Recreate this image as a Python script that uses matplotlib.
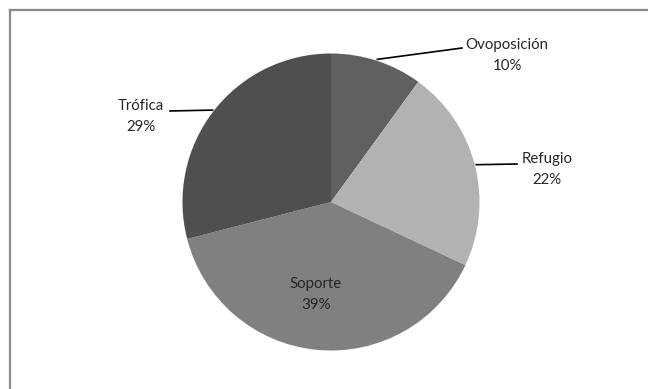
import numpy as np
import matplotlib.pyplot as plt
from matplotlib.lines import Line2D

categories = ["Ovoposición", "Refugio", "Soporte", "Trófica"]
values = [10, 22, 39, 29]
colors = ["#606060", "#b2b2b2", "#808080", "#4f4f4f"]

W, H = 648, 389
fig = plt.figure(figsize=(W / 100, H / 100), dpi=100)
ax = fig.add_axes([0, 0, 1, 1])

# frame (only top and left edges fall inside the picture)
fig.add_artist(Line2D([10 / W, 10 / W], [0, 1 - 10 / H], color="#8a8a8a", lw=1.6))
fig.add_artist(Line2D([10 / W, 1], [1 - 10 / H, 1 - 10 / H], color="#8a8a8a", lw=1.6))

cx, cy, r = 331, H - 202, 148.5
wedges, _ = ax.pie(
    values,
    colors=colors,
    startangle=90,
    counterclock=False,
    center=(cx, cy),
    radius=r,
    frame=True,
    wedgeprops=dict(linewidth=0),
)
ax.set_xlim(0, W)
ax.set_ylim(0, H)
ax.set_aspect("equal")
ax.axis("off")

font = dict(family="Lato", fontsize=10.8, color="#262626")
pcts = [f"{v}%" for v in values]


def edge_point(w):
    mid = np.deg2rad((w.theta1 + w.theta2) / 2)
    return cx + r * 1.01 * np.cos(mid), cy + r * 1.01 * np.sin(mid)


# Ovoposición
x0, y0 = edge_point(wedges[0])
ax.plot([x0, 462], [y0, H - 48], color="black", lw=1.2)
ax.text(507, H - 45, categories[0], ha="center", va="center", **font)
ax.text(507, H - 66, pcts[0], ha="center", va="center", **font)

# Refugio
x0, y0 = edge_point(wedges[1])
ax.plot([x0, 517], [y0, H - 164], color="black", lw=1.2)
ax.text(547, H - 159, categories[1], ha="center", va="center", **font)
ax.text(547, H - 180, pcts[1], ha="center", va="center", **font)

# Soporte
ax.text(316, H - 284, categories[2], ha="center", va="center", **font)
ax.text(316, H - 305, pcts[2], ha="center", va="center", **font)

# Trófica
x0, y0 = edge_point(wedges[3])
ax.plot([170, x0], [H - 111, y0], color="black", lw=1.2)
ax.text(141, H - 106, categories[3], ha="center", va="center", **font)
ax.text(141, H - 127, pcts[3], ha="center", va="center", **font)

fig.savefig("out.png", dpi=100)
